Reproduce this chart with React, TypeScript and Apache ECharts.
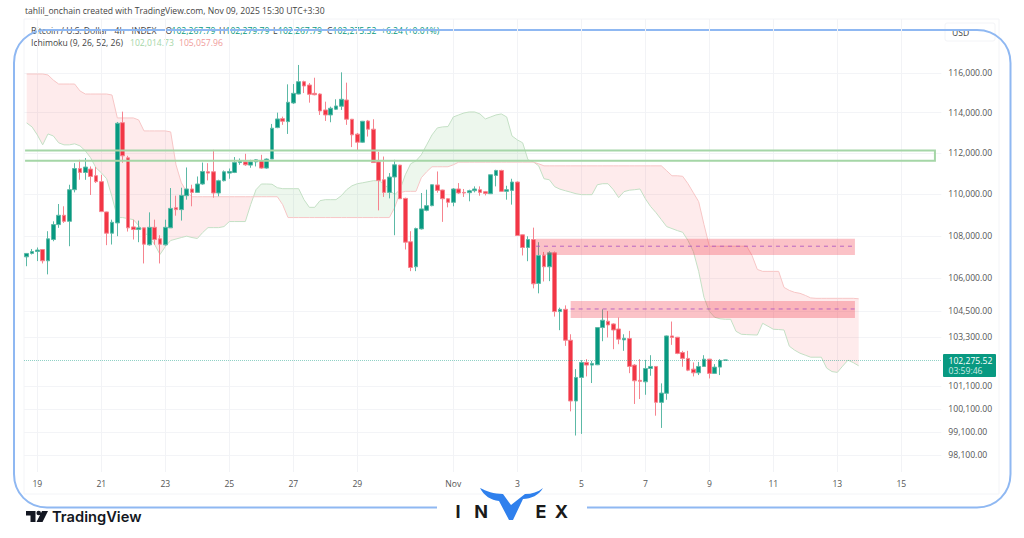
import React, { useEffect, useRef } from "react";
import * as echarts from "echarts";

// one row per 4h candle
const opens = [
  107010, 107170, 107260, 107355, 106825, 107826, 108535, 108980, 108690, 110210,
  111240, 111045, 111210, 110890, 110600, 109140, 108125, 108615, 113500, 111760,
  108425, 108300, 108380, 107575, 108405, 107860, 107575, 108380, 109345, 109250,
  109920, 110245, 110080, 110485, 111080, 111080, 110050, 110645, 111015, 111045,
  111530, 111565, 111405, 111565, 111630, 111260, 111700, 113255, 113700, 113550,
  114485, 114935, 115560, 115390, 114970, 114935, 114134, 113885, 114170, 114320,
  114634, 113670, 112930, 112530, 113585, 113175, 111565, 110693, 110080, 110825,
  111405, 109790, 107720, 106545, 108330, 109215, 109440, 110440, 110195, 109775,
  109600, 110245, 110080, 110065, 110160, 110210, 110115, 110015, 110900, 111145,
  110130, 110175, 110580, 108050, 107450, 107826, 105770, 107090, 106545, 107200,
  104470, 104574, 103165, 100450, 101495, 102165, 102045, 102060, 103740, 104030,
  103905, 103675, 103180, 103240, 102045, 101365, 101300, 101895, 101985, 100390,
  100790, 103360, 103300, 102610, 102345, 101865, 101700, 101985, 102312, 101675,
  101955, 102267.79,
];
const closes = [
  107170, 107260, 107330, 106825, 107860, 108535, 108980, 108690, 110210, 111240,
  111045, 111310, 110850, 110600, 109155, 108125, 108645, 113470, 111860, 108380,
  108300, 108380, 107605, 108405, 107826, 107605, 108405, 109310, 109250, 109935,
  110245, 110080, 110485, 111095, 111015, 110050, 110645, 111080, 111095, 111530,
  111615, 111420, 111565, 111665, 111260, 111700, 113225, 113685, 113570, 114520,
  114970, 115560, 115340, 114920, 114900, 114085, 113885, 114220, 114335, 114670,
  113670, 112895, 112530, 113570, 113175, 111530, 110660, 110080, 110825, 111420,
  109775, 107700, 106510, 108345, 109285, 109440, 110450, 110175, 109775, 109600,
  110245, 110050, 110050, 110160, 110245, 110080, 110030, 110935, 111145, 110130,
  110210, 110580, 108015, 107450, 107826, 105750, 107075, 106545, 107200, 104470,
  104574, 103165, 100450, 101495, 102165, 102045, 102120, 103740, 104075, 103860,
  103630, 103211, 103255, 101985, 101345, 101320, 101895, 101985, 100390, 100800,
  103360, 103290, 102570, 102345, 101820, 101700, 101985, 102312, 101675, 101955,
  102255, 102275.52,
];
const lows = [
  106570, 107120, 106810, 106700, 106190, 107745, 108380, 108615, 107510, 110080,
  110693, 110690, 109955, 110535, 109140, 107560, 107590, 107985, 111520, 108205,
  107826, 107700, 106700, 107540, 107575, 106700, 107540, 108380, 108960, 108725,
  109729, 109410, 110065, 110450, 110660, 109825, 109890, 110610, 110740, 111015,
  111420, 111370, 111275, 111340, 111225, 111225, 111700, 113225, 113390, 112940,
  114435, 114920, 114985, 114500, 114870, 113885, 113585, 113520, 114134, 114134,
  113390, 112290, 112120, 112500, 112810, 111520, 109215, 109860, 109790, 108030,
  109760, 107355, 106340, 106340, 108298, 109170, 109410, 110065, 108665, 109360,
  109410, 110005, 109860, 109650, 110080, 109920, 109935, 110015, 110370, 110115,
  109729, 109490, 108015, 107075, 106805, 105540, 105310, 105860, 105875, 104240,
  103620, 102910, 99995, 98940, 99010, 101540, 101245, 102045, 103120, 103290,
  102760, 102985, 102685, 101685, 100320, 100537, 100725, 101570, 99805, 99270,
  100505, 102955, 102535, 101970, 101775, 101540, 101600, 101970, 101450, 101655,
  101600, 102267.79,
];
const highs = [
  107190, 107380, 107450, 107380, 108220, 108690, 109520, 109410, 110450, 111500,
  111665, 111750, 111340, 111310, 110935, 109155, 108770, 113535, 114050, 111860,
  108770, 108725, 108390, 109120, 108770, 108030, 108770, 110290, 109920, 110305,
  111290, 110450, 110850, 111530, 111500, 112155, 110693, 111145, 111240, 111800,
  111730, 111960, 111665, 111700, 111910, 111730, 113435, 114000, 113800, 115425,
  115440, 116410, 115610, 115490, 115760, 114970, 114550, 114300, 114670, 116035,
  115510, 113685, 112990, 113585, 113635, 113670, 112055, 111825, 111015, 111665,
  111420, 109825, 108220, 108390, 110050, 110210, 110465, 111095, 110210, 109810,
  110290, 110530, 110245, 110210, 110370, 110370, 110150, 110935, 111178, 111178,
  110400, 110740, 110610, 108060, 107980, 108390, 107700, 107240, 107275, 107260,
  104650, 104755, 103435, 101865, 102267, 102312, 102235, 103755, 104574, 104495,
  103935, 104195, 103435, 103590, 102090, 102312, 102280, 102490, 102000, 101230,
  103380, 104015, 103315, 102685, 102685, 102165, 102190, 102490, 102325, 102090,
  102312, 102279.79,
];

// Ichimoku spans, 26 bars ahead of the last candle
const spanA = [
  113485, 113290, 112890, 112400, 112940, 112840, 112500, 112400, 112400, 112450,
  112350, 112105, 111760, 111275, 111030, 110740, 109870, 108870, 108870, 108820,
  108773, 108490, 108205, 107920, 107590, 107120, 107495, 107780, 107850, 107920,
  107985, 107920, 107875, 108155, 108390, 108390, 108390, 108440, 108680, 108680,
  108680, 108680, 109490, 110210, 110485, 110485, 110475, 110305, 110260, 110260,
  110260, 110260, 109729, 109360, 109360, 109680, 109729, 109729, 109729, 109920,
  110210, 110400, 110500, 110545, 110595, 110645, 110645, 110500, 110210, 109970,
  110210, 110935, 111470, 111615, 111910, 112400, 112890, 113240, 113290, 113305,
  113785, 113885, 113985, 114035, 114035, 113935, 113685, 113785, 113885, 113935,
  113785, 112840, 112646, 112500, 111665, 111565, 111370, 110740, 110693, 110355,
  110235, 110160, 110090, 110015, 109970, 109970, 109970, 110450, 110500, 110500,
  110210, 109825, 110115, 110185, 110210, 110245, 109775, 109395, 109105, 108773,
  108440, 108345, 108250, 108170, 107780, 107260, 106330, 105125, 104480, 104210,
  104140, 104118, 104118, 103570, 103435, 103420, 103410, 103400, 103935, 103800,
  103663, 103650, 103630, 102895, 102715, 102580, 102490, 102400, 102400, 102400,
  101910, 101755, 101720, 102000, 102267, 102155, 102014.73,
];
const spanB = [
  115950, 115950, 115950, 115950, 115900, 115640, 115440, 115440, 115440, 115440,
  115090, 114935, 114935, 114935, 114935, 114935, 114885, 113735, 113735, 113735,
  113735, 113635, 113090, 113090, 113090, 113090, 113090, 113040, 111420, 110545,
  110115, 109870, 109870, 109870, 109870, 109870, 109870, 109870, 109870, 109870,
  109870, 109870, 109870, 109870, 109870, 109870, 109870, 109870, 109490, 108870,
  108870, 108870, 108870, 108870, 108870, 108870, 108870, 108870, 108870, 108870,
  108870, 108870, 108870, 108870, 108870, 108870, 108870, 108870, 108870, 109345,
  110065, 110130, 110130, 110130, 110790, 111080, 111325, 111325, 111325, 111325,
  111420, 111550, 111550, 111550, 111550, 111550, 111550, 111550, 111550, 111550,
  111550, 111550, 111550, 111550, 111550, 111550, 111470, 111370, 111370, 111370,
  111370, 111370, 111370, 111370, 111370, 111370, 111370, 111370, 111370, 111370,
  111370, 111370, 111370, 111370, 111370, 111370, 111370, 111370, 111370, 111370,
  111130, 110885, 110885, 110860, 110500, 110065, 109635, 108535, 107510, 107510,
  107510, 107510, 107510, 107510, 107510, 107510, 107075, 106420, 106330, 106330,
  106330, 106330, 105585, 105445, 105355, 105310, 105215, 105100, 105080, 105080,
  105080, 105080, 105080, 105080, 105080, 105080, 105057.96,
];

const barCount = 172;
const dateBars = [2, 14, 26, 38, 50, 62, 80, 92, 104, 116, 128, 140, 152, 164];
const dateLabels = ["19", "21", "23", "25", "27", "29", "Nov", "3", "5", "7", "9", "11", "13", "15"];
const categories = Array.from({ length: barCount }, (_, i) => {
  const k = dateBars.indexOf(i);
  return k >= 0 ? dateLabels[k] : "";
});
const priceTicks = [116000, 114000, 112000, 110000, 108000, 106000, 104500, 103300, 101100, 100100, 99100, 98100];
const lastPrice = 102275.52;

// drawn zones: [first bar, last bar, top price, bottom price, dashed mid price]
const redZones = [
  [95.5, 155.3, 107860, 107100, 107510],
  [102, 155.3, 104955, 104180, 104590],
];
const greenZone = [[-0.3, 170.3, 112120, 111615]];

const UP = "#089981";
const DOWN = "#f23645";
const FONT = "'Open Sans', sans-serif";

echarts.graphic.registerShape(
  "frameLine",
  echarts.graphic.extendPath(
    "M437 507.5 H47 C28 507.5 14 493 14 474 V63 C14 44 28 30 47 30 H977 C996 30 1010.5 44 1010.5 63 V474 C1010.5 493 996 507.5 977 507.5 H587",
    {}
  )
);
echarts.graphic.registerShape(
  "invexV",
  echarts.graphic.extendPath(
    "M480 488 C486 491 494 494 503 494 L511 505 L525 494 C532 494 538 492 543 488 C539 495 531 499 523 499 L513 520 L509 520 L499 501 C491 500 484 496 480 488 Z",
    {}
  )
);
echarts.graphic.registerShape(
  "tvMark",
  echarts.graphic.extendPath(
    "M26 511 H35.5 V522 H30.5 V515.5 H26 Z M48 511 L42.5 522 H36.5 L42 511 Z M41 513 A2.3 2.3 0 1 1 36.4 513 A2.3 2.3 0 1 1 41 513 Z",
    {}
  )
);

const label = (text: string, x: number, y: number, fill: string, fontSize = 8.6, extra: any = {}) => ({
  type: "text",
  x,
  y,
  silent: true,
  style: { text, fill, fontSize, fontFamily: FONT, textVerticalAlign: "middle", ...extra },
});

// cloud fill, split into one polygon per colour where the spans cross
const renderCloud = (_: any, api: any) => {
  const pts = spanA.map((a, i) => {
    const pa = api.coord([i, a]);
    const pb = api.coord([i, spanB[i]]);
    return { x: pa[0], a: pa[1], b: pb[1] };
  });
  const children: any[] = [];
  let top: number[][] = [];
  let bottom: number[][] = [];
  const flush = (isGreen: boolean) => {
    children.push({
      type: "polygon",
      silent: true,
      shape: { points: top.concat(bottom.reverse()) },
      style: { fill: isGreen ? "rgba(76,175,80,0.1)" : "rgba(242,54,69,0.1)" },
    });
  };
  pts.forEach((p, i) => {
    if (i > 0) {
      const q = pts[i - 1];
      const d0 = q.a - q.b;
      const d1 = p.a - p.b;
      if (d0 * d1 < 0) {
        const t = d0 / (d0 - d1);
        const cross = [q.x + (p.x - q.x) * t, q.a + (p.a - q.a) * t];
        top.push(cross);
        bottom.push(cross);
        flush(d0 < 0);
        top = [cross];
        bottom = [cross];
      }
    }
    top.push([p.x, p.a]);
    bottom.push([p.x, p.b]);
  });
  const end = pts[pts.length - 1];
  flush(end.a < end.b);
  return { type: "group", children };
};

const xAt = (api: any, bar: number, price: number) => {
  const whole = Math.floor(bar);
  const p = api.coord([whole, price]);
  const step = api.coord([whole + 1, price])[0] - p[0];
  return [p[0] + (bar - whole) * step, p[1]];
};

const renderRedZone = (_: any, api: any) => {
  const a = xAt(api, api.value(0), api.value(2));
  const b = xAt(api, api.value(1), api.value(3));
  const mid = xAt(api, api.value(0), api.value(4));
  return {
    type: "group",
    children: [
      {
        type: "rect",
        silent: true,
        shape: { x: a[0], y: a[1], width: b[0] - a[0], height: b[1] - a[1] },
        style: { fill: "rgba(242,54,69,0.3)" },
      },
      {
        type: "line",
        silent: true,
        shape: { x1: a[0], y1: mid[1], x2: b[0], y2: mid[1] },
        style: { stroke: "#a94fc0", lineWidth: 1, lineDash: [4, 4], opacity: 0.8 },
      },
    ],
  };
};

// the box runs off the chart on the left, so it has no left side
const renderGreenZone = (_: any, api: any) => {
  const a = xAt(api, api.value(0), api.value(2));
  const b = xAt(api, api.value(1), api.value(3));
  return {
    type: "polyline",
    silent: true,
    shape: {
      points: [
        [a[0], a[1]],
        [b[0], a[1]],
        [b[0], b[1]],
        [a[0], b[1]],
      ],
    },
    style: { fill: "none", stroke: "#a5d6a7", lineWidth: 2 },
  };
};

export default function App() {
  const chartRef = useRef<HTMLDivElement>(null);

  useEffect(() => {
    if (!chartRef.current) return;
    const chart = echarts.init(chartRef.current, undefined, { renderer: "svg" });

    chart.setOption({
      animation: false,
      backgroundColor: "#fff",
      grid: { left: 24, top: 19, width: 917.33, height: 453 },
      xAxis: {
        type: "category",
        data: categories,
        axisLine: { show: false },
        axisTick: { show: false },
        axisLabel: {
          interval: 0,
          hideOverlap: false,
          margin: 7,
          color: "#555",
          fontSize: 8.6,
          fontFamily: FONT,
        },
        splitLine: {
          show: true,
          alignWithLabel: true,
          interval: (_: number, value: string) => value !== "",
          lineStyle: { color: "#f2f3f6", width: 1 },
        },
      },
      yAxis: {
        type: "log",
        position: "right",
        min: 97369,
        max: 118782,
        axisLine: { show: false },
        axisTick: { show: false, customValues: priceTicks },
        axisLabel: {
          customValues: priceTicks,
          margin: 7,
          color: "#555",
          fontSize: 8.6,
          fontFamily: FONT,
          formatter: (v: number) =>
            Math.round(v).toLocaleString("en-US", { minimumFractionDigits: 2, maximumFractionDigits: 2 }),
        },
        splitLine: { show: true, lineStyle: { color: "#f3f4f7", width: 1 } },
      },
      series: [
        {
          type: "custom",
          name: "cloud",
          z: 1,
          renderItem: renderCloud,
          data: [[0, spanA[0]]],
        },
        {
          type: "line",
          name: "Leading Span A",
          z: 2,
          data: spanA,
          symbol: "none",
          lineStyle: { color: "#c4e0c5", width: 1 },
        },
        {
          type: "line",
          name: "Leading Span B",
          z: 2,
          data: spanB,
          symbol: "none",
          lineStyle: { color: "#f7c6c6", width: 1 },
        },
        {
          type: "candlestick",
          name: "BTCUSD",
          z: 3,
          barWidth: 4.4,
          data: opens.map((o, i) => [o, closes[i], lows[i], highs[i]]),
          // paler border: the reference's wicks and body edges are soft
          itemStyle: { color: UP, color0: DOWN, borderColor: "#5cb9a6", borderColor0: "#f6848f", borderWidth: 1 },
          markLine: {
            silent: true,
            symbol: "none",
            label: { show: false },
            lineStyle: { color: UP, type: "dotted", width: 1, opacity: 0.45 },
            data: [{ yAxis: lastPrice }],
          },
        },
        {
          type: "custom",
          name: "resistance zones",
          z: 4,
          renderItem: renderRedZone,
          data: redZones,
        },
        {
          type: "custom",
          name: "supply box",
          z: 4,
          renderItem: renderGreenZone,
          data: greenZone,
        },
      ],
      graphic: {
        elements: [
          {
            type: "rect",
            z: -1,
            silent: true,
            shape: { x: 24, y: 19, width: 975, height: 475 },
            style: { fill: "none", stroke: "#f3f4f7", lineWidth: 1 },
          },
          {
            type: "rect",
            silent: true,
            shape: { x: 945, y: 23, width: 50, height: 18, r: 2 },
            style: { fill: "#fff", stroke: "#f3f4f7", lineWidth: 1 },
          },
          label("tahlil_onchain created with TradingView.com, Nov 09, 2025 15:30 UTC+3:30", 25, 11, "#444"),
          label("Bitcoin / U.S. Dollar · 4h · INDEX", 31, 30.5, "#444"),
          label("O", 165.5, 30.5, "#444"),
          label("102,267.79", 171.5, 30.5, UP),
          label("H", 219, 30.5, "#444"),
          label("102,279.79", 225.5, 30.5, UP),
          label("L", 273, 30.5, "#444"),
          label("102,267.79", 278, 30.5, UP),
          label("C", 327, 30.5, "#444"),
          label("102,275.52", 332.5, 30.5, UP),
          label("+6.24 (+0.01%)", 381, 30.5, UP),
          label("Ichimoku (9, 26, 52, 26)", 31, 43, "#444"),
          label("102,014.73", 130, 43, "#a5d6a7"),
          label("105,057.96", 179, 43, "#ef9a9a"),
          label("USD", 952, 32.5, "#444"),
          {
            type: "rect",
            silent: true,
            shape: { x: 943, y: 354, width: 53, height: 23, r: 1 },
            style: { fill: UP },
          },
          label("102,275.52", 948.5, 360.5, "#fff"),
          label("03:59:46", 948.5, 371, "#cfeae4"),
          {
            type: "frameLine",
            silent: true,
            style: { fill: "none", stroke: "#8fb8f2", lineWidth: 2 },
          },
          { type: "tvMark", silent: true, style: { fill: "#131722" } },
          label("TradingView", 52, 516.5, "#131722", 14.7, {
            fontFamily: "Inter, sans-serif",
            fontWeight: 600,
          }),
          { type: "invexV", silent: true, style: { fill: "#2f80ed" } },
          ...["I", "N", "E", "X"].map((ch, i) =>
            label(ch, [458, 481, 541, 561.5][i], 511.5, "#1a1a1a", 18, {
              fontFamily: "Inter, sans-serif",
              fontWeight: 700,
              textAlign: "center",
            })
          ),
        ],
      },
    });

    return () => chart.dispose();
  }, []);

  return (
    <div
      ref={chartRef}
      style={{ position: "absolute", left: 0, top: 0, width: 1024, height: 538, background: "#fff" }}
    />
  );
}
